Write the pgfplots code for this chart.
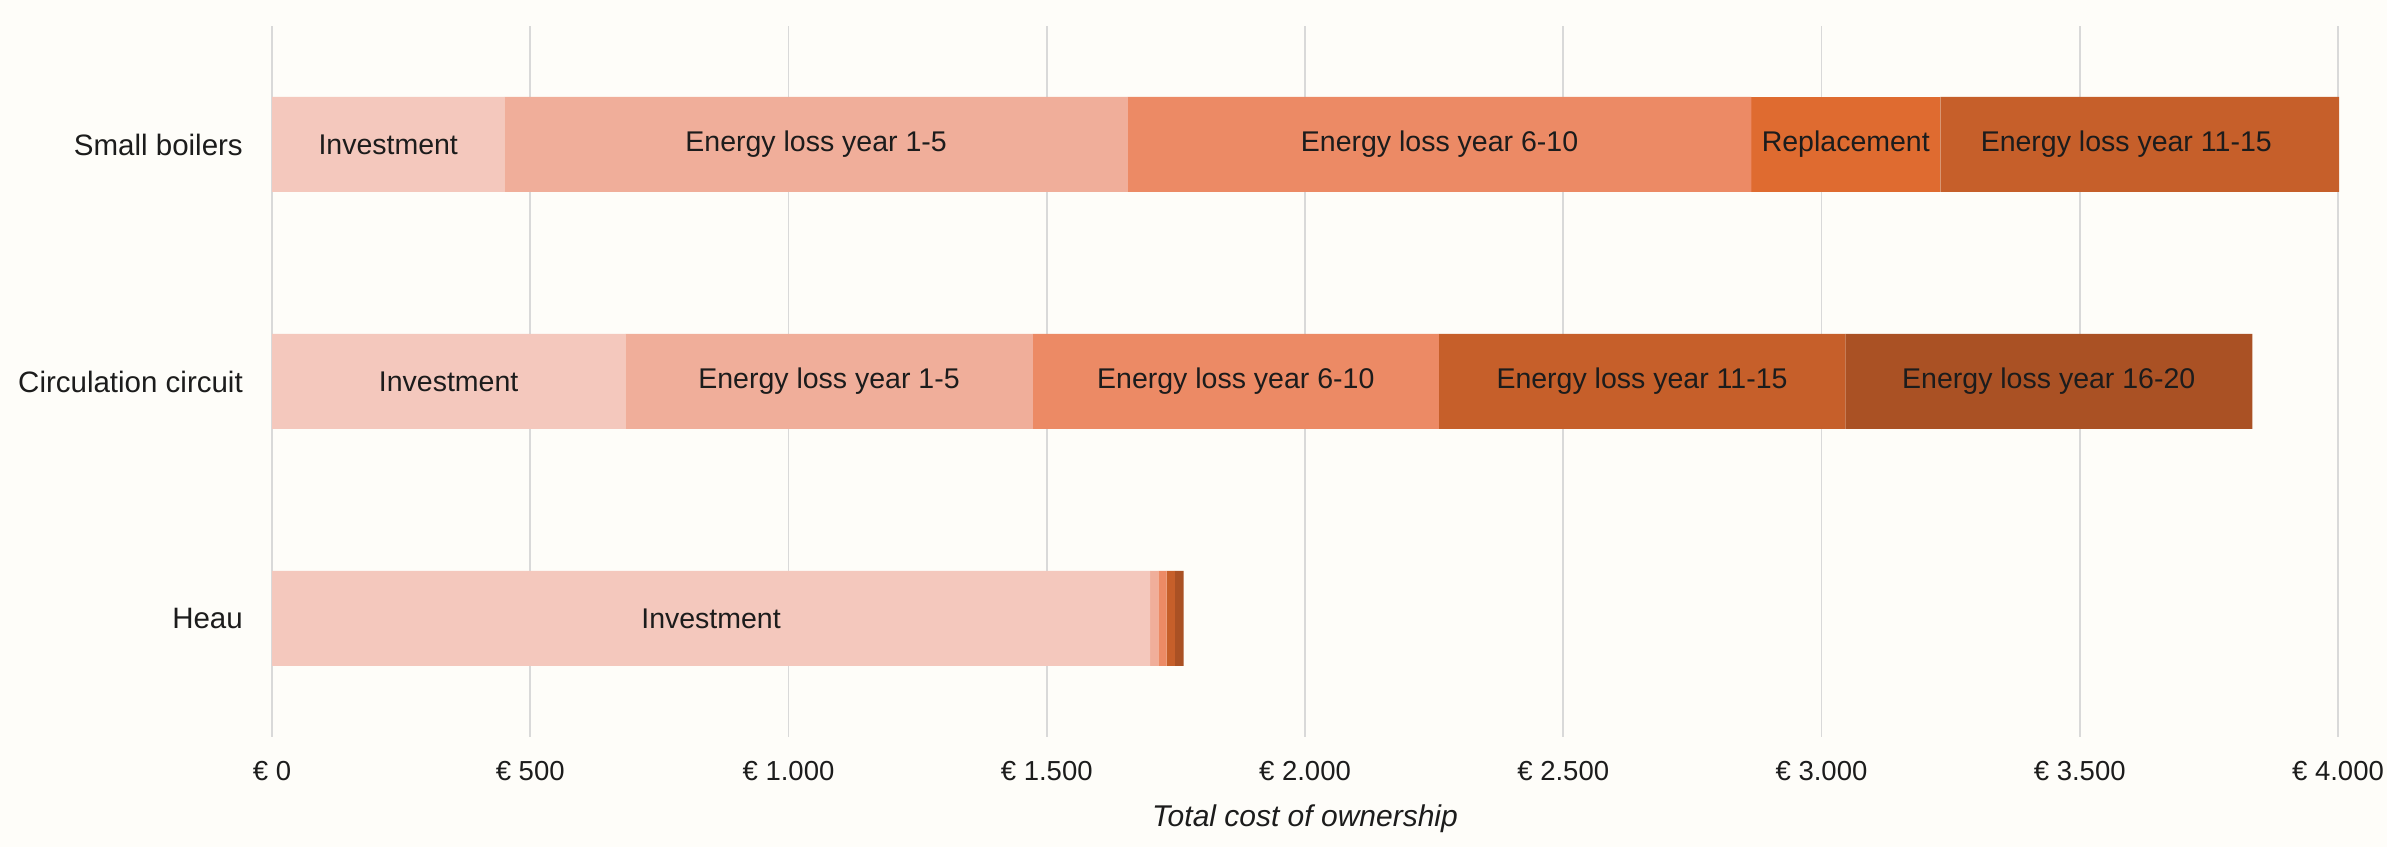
\documentclass[border=0pt]{standalone}
\usepackage{fontspec}
\setmainfont{Liberation Sans}
\usepackage{pgfplots}
\pgfplotsset{compat=1.18}
\definecolor{bg}{HTML}{FEFDF9}
\definecolor{cinv}{HTML}{F4C8BD}
\definecolor{ca}{HTML}{F0AE9A}
\definecolor{cb}{HTML}{EC8A65}
\definecolor{crep}{HTML}{DF6B30}
\definecolor{cc}{HTML}{C65F2A}
\definecolor{cd}{HTML}{AA5124}
\definecolor{gridc}{HTML}{D9D9D9}
\definecolor{txt}{HTML}{1C1C1C}
\newcommand\chartfont{\fontsize{27.5bp}{33bp}\selectfont}
\newcommand\barfont{\fontsize{28.5bp}{34bp}\selectfont}
\newcommand\catfont{\fontsize{29.5bp}{35bp}\selectfont}
\newcommand\labfont{\fontsize{30bp}{36bp}\selectfont}
\begin{document}
\begin{tikzpicture}
\fill[bg] (0,0) rectangle (2387bp,847bp);
\path[use as bounding box] (0,0) rectangle (2387bp,847bp);
\begin{axis}[
  at={(272bp,110bp)}, anchor=south west,
  scale only axis, width=2066bp, height=711bp,
  xbar stacked, bar width=95bp,
  xmin=0, xmax=4000, ymin=-0.5, ymax=2.5,
  axis line style={draw=none},
  major tick length=0pt,
  xmajorgrids, ymajorgrids=false,
  grid style={color=gridc, line width=1.6bp},
  xtick={0,500,...,4000},
  xticklabels={€ 0,€ 500,€ 1.000,€ 1.500,€ 2.000,€ 2.500,€ 3.000,€ 3.500,€ 4.000},
  ytick={0,1,2},
  yticklabels={Heau,Circulation circuit,Small boilers},
  xticklabel style={font=\chartfont, text=txt, anchor=base, inner sep=0pt, yshift=-43bp},
  yticklabel style={font=\catfont, text=txt, anchor=east, inner sep=0pt, xshift=-29bp},
  xlabel={\itshape Total cost of ownership},
  xlabel style={font=\labfont, text=txt, anchor=base, inner sep=0pt, at={(axis description cs:0.5,0)}, yshift=-89bp},
  clip=false,
]
\addplot[draw=none, fill=cinv] coordinates {(450,2) (684,1) (1700,0)};
\addplot[draw=none, fill=ca] coordinates {(1207,2) (789,1) (16,0)};
\addplot[draw=none, fill=cb] coordinates {(1207,2) (786,1) (16,0)};
\addplot[draw=none, fill=crep] coordinates {(366,2) (0,1) (0,0)};
\addplot[draw=none, fill=cc] coordinates {(772,2) (787,1) (16,0)};
\addplot[draw=none, fill=cd] coordinates {(0,2) (788,1) (17,0)};
\coordinate (a1) at (axis cs:225,2);
\coordinate (a2) at (axis cs:1053.5,2);
\coordinate (a3) at (axis cs:2260.5,2);
\coordinate (a4) at (axis cs:3047,2);
\coordinate (a5) at (axis cs:3590,2);
\coordinate (b1) at (axis cs:342,1);
\coordinate (b2) at (axis cs:1078.5,1);
\coordinate (b3) at (axis cs:1866,1);
\coordinate (b4) at (axis cs:2652.5,1);
\coordinate (b5) at (axis cs:3440,1);
\coordinate (c1) at (axis cs:850,0);
\end{axis}
\begin{scope}[every node/.style={font=\barfont, text=txt, inner sep=0pt}]
\node at (a1) {Investment};
\node at (a2) {Energy loss year 1-5};
\node at (a3) {Energy loss year 6-10};
\node at (a4) {Replacement};
\node at (a5) {Energy loss year 11-15};
\node at (b1) {Investment};
\node at (b2) {Energy loss year 1-5};
\node at (b3) {Energy loss year 6-10};
\node at (b4) {Energy loss year 11-15};
\node at (b5) {Energy loss year 16-20};
\node at (c1) {Investment};
\end{scope}
\end{tikzpicture}
\end{document}
